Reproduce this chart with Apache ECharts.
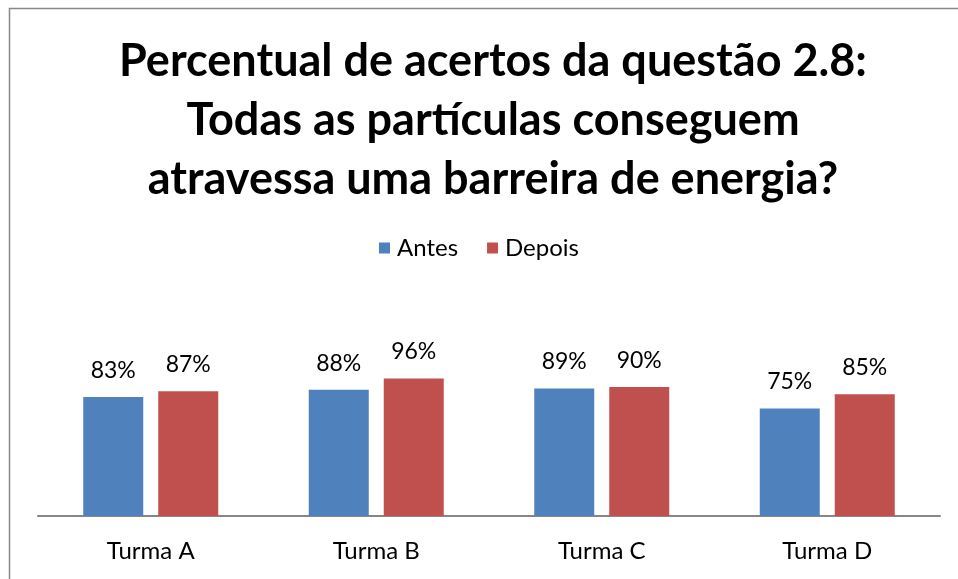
<!DOCTYPE html>
<html>
<head>
<meta charset="utf-8">
<script src="https://cdn.jsdelivr.net/npm/echarts@6/dist/echarts.min.js"></script>
<style>
  html, body { margin: 0; padding: 0; background: #fff; }
  #chart { width: 958px; height: 579px; }
</style>
</head>
<body>
<div id="chart"></div>
<script>
// data
const categories = ['Turma A', 'Turma B', 'Turma C', 'Turma D']
const antes = [0.83, 0.88, 0.89, 0.75]
const depois = [0.87, 0.96, 0.90, 0.85]
const seriesNames = ['Antes', 'Depois']

const font = 'Lato, "Open Sans", sans-serif'

const chart = echarts.init(document.getElementById('chart'))

const pct = function (p) {
  return Math.round(p.value * 100) + '%'
}

const labelStyle = {
  show: true,
  position: 'top',
  distance: 15,
  formatter: pct,
  fontFamily: font,
  fontSize: 23,
  color: '#000'
}

chart.setOption({
  animation: false,
  backgroundColor: '#fff',
  title: {
    text: 'Percentual de acertos da questão 2.8:\nTodas as partículas conseguem\natravessa uma barreira de energia?',
    left: 488,
    top: 27,
    textAlign: 'center',
    textStyle: {
      fontFamily: font,
      fontWeight: 'bold',
      fontSize: 45,
      lineHeight: 59,
      color: '#000'
    }
  },
  legend: {
    data: seriesNames,
    left: 'center',
    top: 231,
    itemWidth: 11,
    itemHeight: 11,
    itemGap: 29,
    icon: 'rect',
    textStyle: { fontFamily: font, fontSize: 24, color: '#000', padding: [0, 0, 0, 2] }
  },
  graphic: [{
    type: 'polyline',
    shape: { points: [[9.5, 600], [9.5, 8.5], [970, 8.5]] },
    style: { stroke: '#888', lineWidth: 1.5, fill: null },
    silent: true
  }],
  grid: {
    left: 38,
    right: 18,
    top: 344,
    bottom: 63
  },
  xAxis: {
    type: 'category',
    data: categories,
    axisLine: { lineStyle: { color: '#868686', width: 2 } },
    axisTick: { show: false },
    axisLabel: {
      fontFamily: font,
      fontSize: 24,
      color: '#000',
      margin: 23
    }
  },
  yAxis: {
    type: 'value',
    min: 0,
    max: 1.2,
    show: false,
    splitLine: { show: false }
  },
  series: [{
    name: seriesNames[0],
    type: 'bar',
    data: antes,
    barWidth: 60,
    barGap: '25%',
    itemStyle: { color: '#4f81bd' },
    label: labelStyle
  }, {
    name: seriesNames[1],
    type: 'bar',
    data: depois,
    barWidth: 60,
    itemStyle: { color: '#c0504d' },
    label: labelStyle
  }]
})
</script>
</body>
</html>
